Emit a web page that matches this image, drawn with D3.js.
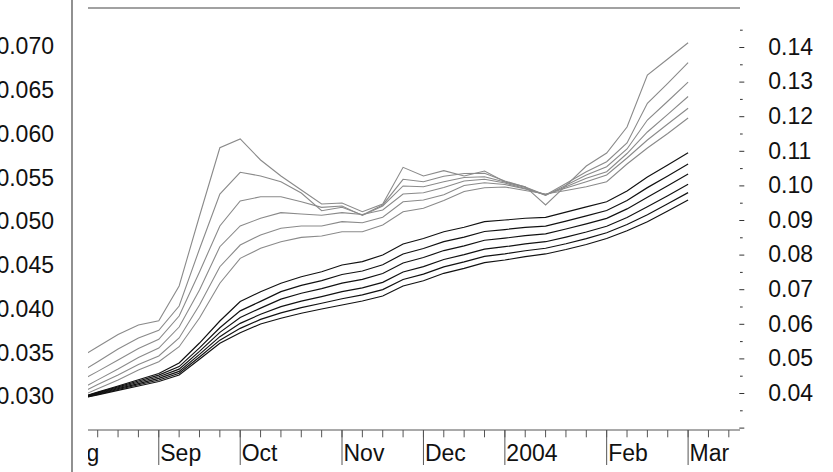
<!DOCTYPE html>
<html><head><meta charset="utf-8">
<script src="https://cdn.jsdelivr.net/npm/d3@7"></script>
<style>body{margin:0;background:#fff}svg{display:block}text{font-family:"Liberation Sans",Arial,sans-serif}</style>
</head><body><svg id="c" width="833" height="472"></svg>
<script>
// Weekly observation dates (Fridays)
const dates = ["2003-08-08","2003-08-15","2003-08-22","2003-08-29","2003-09-05","2003-09-12","2003-09-19","2003-09-26",
"2003-10-03","2003-10-10","2003-10-17","2003-10-24","2003-10-31","2003-11-07","2003-11-14","2003-11-21","2003-11-28",
"2003-12-05","2003-12-12","2003-12-19","2003-12-26","2004-01-02","2004-01-09","2004-01-16","2004-01-23","2004-01-30",
"2004-02-06","2004-02-13","2004-02-20","2004-02-27","2004-03-05"];

// grey series (upper bundle)
const grey1 = [0.03429,0.03568,0.03709,0.03817,0.03866,0.04263,0.05063,0.05843,0.05943,0.05703,0.05520,0.05360,0.05200,0.05211,0.05112,0.05200,0.05619,0.05520,0.05581,0.05520,0.05577,0.05455,0.05398,0.05189,0.05411,0.05634,0.05783,0.06080,0.06674,0.06857,0.07043];
const grey2 = [0.03254,0.03398,0.03543,0.03669,0.03757,0.04034,0.04686,0.05314,0.05562,0.05520,0.05455,0.05326,0.05123,0.05162,0.05074,0.05189,0.05482,0.05455,0.05517,0.05549,0.05551,0.05463,0.05394,0.05303,0.05435,0.05569,0.05683,0.05897,0.06351,0.06579,0.06815];
const grey3 = [0.03159,0.03287,0.03417,0.03549,0.03654,0.03920,0.04423,0.04949,0.05234,0.05283,0.05283,0.05226,0.05162,0.05177,0.05069,0.05177,0.05406,0.05398,0.05455,0.05503,0.05512,0.05451,0.05389,0.05297,0.05414,0.05531,0.05626,0.05829,0.06160,0.06374,0.06594];
const grey4 = [0.03066,0.03190,0.03314,0.03446,0.03554,0.03794,0.04217,0.04712,0.04949,0.05037,0.05101,0.05086,0.05071,0.05101,0.05080,0.05131,0.05314,0.05329,0.05389,0.05463,0.05482,0.05440,0.05377,0.05303,0.05398,0.05494,0.05569,0.05777,0.06023,0.06225,0.06429];
const grey5 = [0.03024,0.03136,0.03246,0.03366,0.03463,0.03669,0.04046,0.04483,0.04731,0.04846,0.04922,0.04949,0.04949,0.04998,0.04986,0.05048,0.05226,0.05246,0.05306,0.05411,0.05443,0.05423,0.05371,0.05309,0.05383,0.05455,0.05531,0.05726,0.05931,0.06114,0.06294];
const grey6 = [0.02987,0.03088,0.03189,0.03303,0.03398,0.03569,0.03897,0.04294,0.04579,0.04694,0.04769,0.04819,0.04834,0.04883,0.04883,0.04960,0.05112,0.05151,0.05240,0.05343,0.05386,0.05394,0.05354,0.05314,0.05355,0.05398,0.05455,0.05657,0.05840,0.06006,0.06183];

// black series (lower bundle)
const black1 = [0.02981,0.03050,0.03120,0.03191,0.03263,0.03383,0.03611,0.03863,0.04086,0.04198,0.04294,0.04369,0.04426,0.04503,0.04541,0.04617,0.04743,0.04806,0.04883,0.04934,0.04998,0.05017,0.05037,0.05048,0.05107,0.05167,0.05226,0.05349,0.05509,0.05646,0.05786];
const black2 = [0.02978,0.03044,0.03110,0.03177,0.03245,0.03342,0.03555,0.03786,0.03979,0.04087,0.04199,0.04270,0.04325,0.04394,0.04434,0.04506,0.04629,0.04691,0.04770,0.04822,0.04886,0.04908,0.04933,0.04948,0.05005,0.05065,0.05126,0.05241,0.05387,0.05521,0.05657];
const black3 = [0.02976,0.03037,0.03100,0.03163,0.03226,0.03313,0.03516,0.03733,0.03904,0.04010,0.04113,0.04180,0.04233,0.04296,0.04338,0.04405,0.04526,0.04588,0.04668,0.04722,0.04786,0.04810,0.04839,0.04859,0.04914,0.04973,0.05036,0.05144,0.05278,0.05408,0.05542];
const black4 = [0.02973,0.03031,0.03090,0.03148,0.03208,0.03287,0.03481,0.03684,0.03836,0.03940,0.04027,0.04090,0.04142,0.04198,0.04241,0.04305,0.04423,0.04484,0.04566,0.04621,0.04685,0.04712,0.04744,0.04769,0.04822,0.04880,0.04946,0.05046,0.05168,0.05295,0.05426];
const black5 = [0.02971,0.03024,0.03080,0.03134,0.03189,0.03265,0.03451,0.03644,0.03779,0.03881,0.03956,0.04016,0.04066,0.04117,0.04161,0.04222,0.04337,0.04398,0.04482,0.04538,0.04602,0.04631,0.04666,0.04694,0.04746,0.04804,0.04871,0.04965,0.05077,0.05202,0.05330];
const black6 = [0.02968,0.03018,0.03070,0.03120,0.03171,0.03246,0.03425,0.03608,0.03729,0.03829,0.03894,0.03951,0.04000,0.04046,0.04091,0.04149,0.04263,0.04323,0.04408,0.04465,0.04529,0.04560,0.04598,0.04629,0.04680,0.04737,0.04806,0.04895,0.04998,0.05120,0.05246];

// axis tick values / labels
const leftTicks = [0.030,0.035,0.040,0.045,0.050,0.055,0.060,0.065,0.070];
const rightTicks = [0.03,0.04,0.05,0.06,0.07,0.08,0.09,0.10,0.11,0.12,0.13,0.14];
const rightMinorTicks = [0.035,0.045,0.055,0.065,0.075,0.085,0.095,0.105,0.115,0.125,0.135,0.145];
const monthTickDates = ["2003-08-01","2003-09-05","2003-10-03","2003-11-07","2003-12-05","2004-01-02","2004-02-06","2004-03-05"];
const monthTickLabels = ["Aug","Sep","Oct","Nov","Dec","2004","Feb","Mar"];
const weekTickStart = "2003-08-01", weekTickEnd = "2004-03-20";

const parse = d3.utcParse("%Y-%m-%d");
const svg = d3.select("#c");
const FS = 23;
const plotL = 88, plotR = 740;

const x = d3.scaleUtc().domain([parse("2003-08-15"), parse("2004-03-05")]).range([97.7, 688.1]);
const yL = d3.scaleLinear().domain([0.03, 0.07]).range([396.5, 46.5]);
const yR = d3.scaleLinear().domain([0.04, 0.14]).range([393, 47]);

svg.append("defs").append("clipPath").attr("id","clip")
  .append("rect").attr("x", plotL).attr("y", 0).attr("width", plotR - plotL).attr("height", 472);

// frame
svg.append("line").attr("x1",72).attr("x2",72).attr("y1",0).attr("y2",472).attr("stroke","#555").attr("stroke-width",1.3);
svg.append("line").attr("x1",plotL).attr("x2",plotR).attr("y1",8).attr("y2",8).attr("stroke","#444").attr("stroke-width",1.2);

// lines
const line = d3.line().x((d,i)=>x(parse(dates[i]))).y(d=>yL(d));
const gLines = svg.append("g").attr("clip-path","url(#clip)");
[grey1,grey2,grey3,grey4,grey5,grey6].forEach(s=>{
  gLines.append("path").attr("d", line(s)).attr("fill","none").attr("stroke","#8a8a8a").attr("stroke-width",1.1);
});
[black1,black2,black3,black4,black5,black6].forEach(s=>{
  gLines.append("path").attr("d", line(s)).attr("fill","none").attr("stroke","#111").attr("stroke-width",1.2);
});

// left axis (labels only)
const la = svg.append("g").attr("transform","translate(54,0)")
  .call(d3.axisLeft(yL).tickValues(leftTicks).tickFormat(d3.format(".3f")).tickSize(0).tickPadding(0));
la.select(".domain").remove();
la.selectAll("text").attr("font-size",FS).attr("font-family","Liberation Sans, Arial, sans-serif").attr("fill","#111");

// right axis
const ra = svg.append("g").attr("transform","translate(739.3,0)")
  .call(d3.axisRight(yR).tickValues(rightTicks).tickSize(5).tickPadding(24)
    .tickFormat(d => d < 0.035 ? "" : d3.format(".2f")(d)));
ra.select(".domain").remove();
ra.selectAll("line").attr("stroke","#333");
ra.selectAll("text").attr("font-size",FS).attr("font-family","Liberation Sans, Arial, sans-serif").attr("fill","#111");
const rm = svg.append("g").attr("transform","translate(740,0)")
  .call(d3.axisRight(yR).tickValues(rightMinorTicks).tickSize(2.7).tickFormat(""));
rm.select(".domain").remove();
rm.selectAll("line").attr("stroke","#333");

// bottom axis
const gb = svg.append("g").attr("clip-path","url(#clip)");
gb.append("line").attr("x1",plotL).attr("x2",plotR).attr("y1",430).attr("y2",430).attr("stroke","#555").attr("stroke-width",1.2);
const weeks = d3.utcFriday.range(parse(weekTickStart), parse(weekTickEnd));
gb.selectAll("line.wk").data(weeks).join("line").attr("class","wk")
  .attr("x1",d=>x(d)).attr("x2",d=>x(d)).attr("y1",430).attr("y2",437.3).attr("stroke","#555").attr("stroke-width",1);
gb.selectAll("line.mo").data(monthTickDates).join("line").attr("class","mo")
  .attr("x1",d=>x(parse(d))).attr("x2",d=>x(parse(d))).attr("y1",430).attr("y2",465).attr("stroke","#555").attr("stroke-width",1);
gb.selectAll("text.mo").data(monthTickDates).join("text").attr("class","mo")
  .attr("x",d=>x(parse(d))+1.5).attr("y",461).attr("font-size",FS).attr("fill","#111")
  .text((d,i)=>monthTickLabels[i]);
</script></body></html>
